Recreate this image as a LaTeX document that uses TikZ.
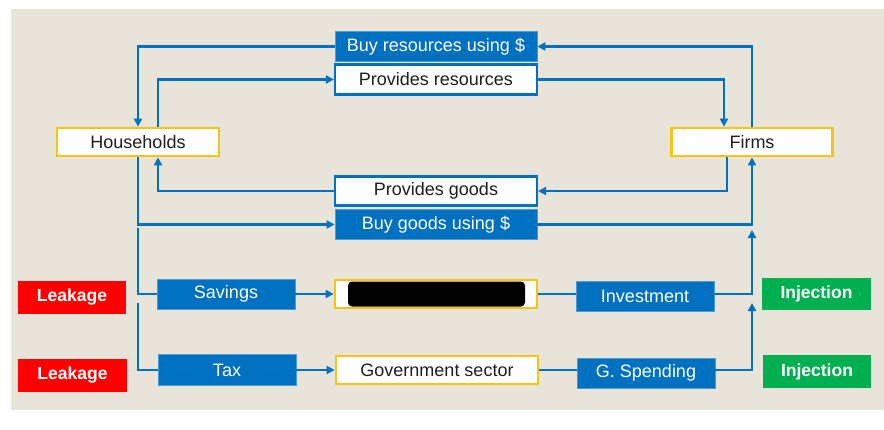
\documentclass[tikz,border=0pt]{standalone}
\usepackage{fontspec}
\setmainfont{Liberation Sans}
\usetikzlibrary{arrows.meta}
\definecolor{bgbeige}{RGB}{232,228,218}
\definecolor{mblue}{RGB}{0,112,192}
\definecolor{myellow}{RGB}{248,196,20}
\definecolor{mred}{RGB}{255,0,0}
\definecolor{mgreen}{RGB}{0,176,80}
\definecolor{mtext}{RGB}{30,30,30}
\tikzset{
  base/.style={rectangle, inner sep=0pt, font=\fontsize{18}{21}\selectfont},
  bluebox/.style={base, fill=mblue, draw=mblue!70!white, line width=0.8pt, text=white},
  whitebox/.style={base, fill=white, draw=mblue, line width=2.2pt, text=mtext},
  yellowbox/.style={base, fill=white, draw=myellow, line width=2.8pt, text=mtext},
  redbox/.style={base, fill=mred, text=white, font=\fontsize{17.5}{20}\selectfont\bfseries},
  greenbox/.style={base, fill=mgreen, text=white, font=\fontsize{17.5}{20}\selectfont\bfseries},
  flow/.style={draw=mblue, line width=2.7pt},
  flowarr/.style={flow, -{Triangle[length=8pt,width=8pt]}}
}
\begin{document}
\begin{tikzpicture}[x=1pt,y=-1pt]
\useasboundingbox (0,0) rectangle (884,429);
\fill[white] (0,0) rectangle (884,429);
\fill[bgbeige] (11,9) rectangle (884,410);

% main nodes
\node[yellowbox, minimum width=162, minimum height=28] (hh) at (138,142) {Households};
\node[yellowbox, minimum width=161, minimum height=28] (fi) at (752,142) {Firms};

\node[bluebox, minimum width=202, minimum height=30] (br) at (436,46.5) {Buy resources using \$};
\node[whitebox, minimum width=202, minimum height=30] (pr) at (436,79.5) {Provides resources};
\node[whitebox, minimum width=202, minimum height=29] (pg) at (436,191) {Provides goods};
\node[bluebox, minimum width=202, minimum height=30] (bg) at (436,224.5) {Buy goods using \$};

\node[bluebox, minimum width=138, minimum height=30] (sav) at (226,294) {Savings};
\node[yellowbox, minimum width=202, minimum height=28] (mid) at (436,294) {};
\node[fill=black, rounded corners=4pt, minimum width=177, minimum height=25, inner sep=0pt] (blk) at (436.5,294) {};
\node[bluebox, minimum width=138, minimum height=30] (inv) at (645,296) {Investment};

\node[bluebox, minimum width=138, minimum height=31] (tax) at (227,370) {Tax};
\node[yellowbox, minimum width=202, minimum height=28] (gov) at (437,370) {Government sector};
\node[bluebox, minimum width=138, minimum height=30] (gs) at (646,373) {G. Spending};

\node[redbox, minimum width=108, minimum height=33] (lk1) at (72,297.5) {Leakage};
\node[redbox, minimum width=109, minimum height=33] (lk2) at (72.5,375.5) {Leakage};
\node[greenbox, minimum width=109, minimum height=32] (in1) at (816.5,294) {Injection};
\node[greenbox, minimum width=108, minimum height=33] (in2) at (817,371.5) {Injection};

% free-end coordinates
\coordinate (s0) at (138,228);
\coordinate (t0) at (138,303);
\coordinate (i0) at (752,230);
\coordinate (g0) at (752,303);

% circular flow
\draw[flowarr] (fi.north) |- (br.east);
\draw[flowarr] (br.west) -| (hh.north);
\draw[flowarr] ([xshift=20pt]hh.north) |- (pr.west);
\draw[flowarr] (pr.east) -| ([xshift=-28pt]fi.north);
\draw[flowarr] ([xshift=-25pt]fi.south) |- (pg.east);
\draw[flowarr] (pg.west) -| ([xshift=20pt]hh.south);
\draw[flowarr] (hh.south) |- (bg.west);
\draw[flowarr] (bg.east) -| (fi.south);

% leakages and injections
\draw[flow] (s0) |- (sav.west);
\draw[flow] (t0) |- (tax.west);
\draw[flowarr] (sav.east) -- (mid.west);
\draw[flowarr] (tax.east) -- (gov.west);
\draw[flow] (mid.east) -- (mid.east -| inv.west);
\draw[flow] (gov.east) -- (gov.east -| gs.west);
\draw[flowarr] (mid.east -| inv.east) -| (i0);
\draw[flowarr] (gov.east -| gs.east) -| (g0);
\end{tikzpicture}
\end{document}
